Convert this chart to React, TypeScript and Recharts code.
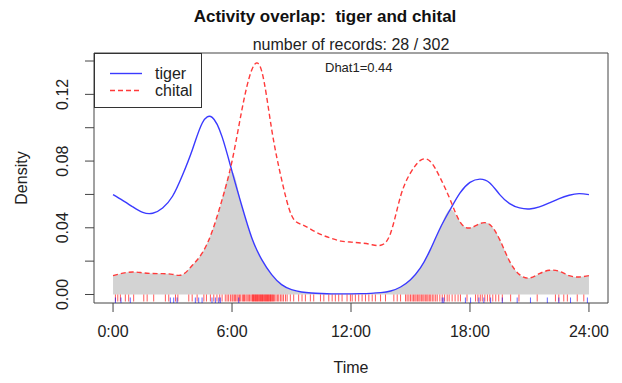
import { ComposedChart, Area, Line, Scatter, XAxis, YAxis, ReferenceArea } from "recharts"

// density curves sampled every half hour
const hours = [
  0, 0.5, 1, 1.5, 2, 2.5, 3, 3.5, 4, 4.5, 5, 5.5, 6, 6.5, 7, 7.5, 8, 8.5, 9, 9.5, 10, 10.5, 11, 11.5,
  12, 12.5, 13, 13.5, 14, 14.5, 15, 15.5, 16, 16.5, 17, 17.5, 18, 18.5, 19, 19.5, 20, 20.5, 21, 21.5,
  22, 22.5, 23, 23.5, 24,
]

const tiger = [
  0.0599, 0.0563, 0.0525, 0.0492, 0.0487, 0.0519, 0.0589, 0.0715, 0.0868, 0.1028, 0.1062, 0.0945,
  0.0738, 0.0529, 0.0339, 0.0209, 0.0119, 0.0059, 0.0029, 0.0015, 0.0009, 0.0006, 0.0004, 0.0004,
  0.0004, 0.0005, 0.0007, 0.0011, 0.0021, 0.0045, 0.0089, 0.0159, 0.0269, 0.0399, 0.0509, 0.0609,
  0.0672, 0.0692, 0.0669, 0.0599, 0.0545, 0.0519, 0.0513, 0.0525, 0.0549, 0.0575, 0.0595, 0.0605,
  0.0599,
]

const chital = [
  0.0113, 0.0128, 0.0135, 0.013, 0.0126, 0.0125, 0.0121, 0.0119, 0.0175, 0.0249, 0.0379, 0.0569,
  0.0799, 0.1108, 0.1348, 0.1338, 0.099, 0.069, 0.0475, 0.042, 0.0389, 0.0359, 0.0337, 0.032,
  0.0314, 0.0309, 0.03, 0.0295, 0.0369, 0.0589, 0.0729, 0.0804, 0.0798, 0.0699, 0.0569, 0.0435,
  0.0399, 0.0425, 0.0419, 0.0329, 0.0199, 0.0119, 0.0099, 0.0125, 0.0145, 0.0139, 0.0113, 0.0105,
  0.0113,
]

// individual record times (hours) for the rugs
const tigerRecords = [
  0.4, 0.87, 2.89, 3.06, 3.23, 4.15, 4.32, 4.49, 4.99, 5.16, 5.33, 5.41, 6.34, 16.6,
  16.68, 17.77, 18.03, 18.45, 18.7, 19.04, 19.63, 20.38, 21.05, 21.9, 22.48, 23.07, 23.92, 0.12,
]

const chitalRecords = [
  0.12, 0.24, 0.37, 0.62, 0.79, 1.04, 1.55, 1.72, 2.05, 2.64, 2.81, 3.15, 3.27, 3.82, 3.99,
  4.24, 4.58, 4.71, 4.91, 5.08, 5.24, 5.38, 5.5, 5.66, 5.75, 5.83, 5.92,
  6.0, 6.05, 6.12, 6.18, 6.25, 6.31, 6.38, 6.44, 6.52, 6.58, 6.63, 6.7, 6.76, 6.82, 6.88, 6.95,
  7.01, 7.04, 7.08, 7.11, 7.15, 7.18, 7.22, 7.25, 7.29, 7.32, 7.36, 7.4, 7.43, 7.47, 7.5, 7.54,
  7.57, 7.61, 7.65, 7.68, 7.72, 7.75, 7.79, 7.83, 7.86, 7.9, 7.94, 7.97, 8.01, 8.05, 8.09,
  8.15, 8.22, 8.3, 8.36, 8.45, 8.52, 8.6, 8.7, 8.78, 8.94,
  9.11, 9.36, 9.53, 9.7, 9.95, 10.12, 10.46, 10.63, 10.88, 11.05, 11.21, 11.38, 11.55, 11.8, 11.97,
  12.06, 12.22, 12.39, 12.56, 12.73, 12.9, 13.07, 13.23, 13.49, 13.74, 14.16, 14.33, 14.5, 14.75,
  14.83, 14.92, 15.0, 15.08, 15.15, 15.22, 15.28, 15.35, 15.42, 15.48, 15.55, 15.62, 15.68, 15.75,
  15.82, 15.88, 15.95, 16.02, 16.1, 16.18, 16.27, 16.35, 16.48, 16.6, 16.72, 16.85, 16.95, 17.1,
  17.25, 17.4, 17.52, 17.85,
  18.28, 18.4, 18.52, 18.62, 18.75, 18.88, 19.0, 19.15, 19.3, 19.45, 19.63,
  20.05, 20.47, 21.39, 22.31, 22.48, 22.73, 22.91, 23.41, 23.74,
]

const xTicks = [0, 6, 12, 18, 24]
const xTickLabels = ["0:00", "6:00", "12:00", "18:00", "24:00"]
const yTicks = [0, 0.02, 0.04, 0.06, 0.08, 0.1, 0.12, 0.14]
const yLabelled = [0, 0.04, 0.08, 0.12]

const X_DOMAIN: [number, number] = [-0.96, 24.96]
const Y_DOMAIN: [number, number] = [-0.0051, 0.1448]

const FONT = "'Liberation Sans', Arial, sans-serif"
const BLUE = "#3a3aff"
const RED = "#ff3a3a"

const rows = hours.map((h, i) => ({
  h,
  tiger: tiger[i],
  chital: chital[i],
  overlap: Math.min(tiger[i], chital[i]),
}))

const tigerRug = tigerRecords.map((h) => ({ h, base: 0 }))
const chitalRug = chitalRecords.map((h) => ({ h, base: 0 }))

function YTick(props: any) {
  const { x, y, payload } = props
  const v = payload.value
  if (!yLabelled.some((l) => Math.abs(l - v) < 1e-9)) return <g />
  return (
    <text
      x={x}
      y={y}
      transform={`rotate(-90, ${x}, ${y})`}
      textAnchor="middle"
      dominantBaseline="central"
      fontSize={16}
      fontFamily={FONT}
      fill="#222"
    >
      {v.toFixed(2)}
    </text>
  )
}

const redTick = (props: any) => (
  <line x1={props.cx} x2={props.cx} y1={props.cy} y2={props.cy + 7} stroke="rgba(255,0,0,0.65)" strokeWidth={1} />
)
const blueTick = (props: any) => (
  <line x1={props.cx} x2={props.cx} y1={props.cy + 3} y2={props.cy + 9} stroke="rgba(0,0,255,0.6)" strokeWidth={1} />
)

export default function App() {
  return (
    <div style={{ position: "absolute", left: 0, top: 0, width: 622, height: 383, background: "#fff", fontFamily: FONT, color: "#111" }}>
      <div style={{ position: "absolute", left: 0, width: 650, top: 7, lineHeight: "20px", textAlign: "center", fontSize: 17, fontWeight: "bold" }}>
        Activity overlap:&nbsp; tiger and chital
      </div>
      <div style={{ position: "absolute", left: 0, width: 702, top: 35, lineHeight: "20px", textAlign: "center", fontSize: 16, color: "#222" }}>
        number of records: 28 / 302
      </div>

      <ComposedChart width={622} height={383} data={rows} margin={{ top: 53, right: 14, bottom: 50, left: 0 }}>
        <XAxis
          dataKey="h"
          type="number"
          domain={X_DOMAIN}
          allowDataOverflow
          ticks={xTicks}
          tickFormatter={(v: number) => xTickLabels[xTicks.indexOf(v)]}
          axisLine={false}
          tickSize={9}
          tickMargin={14}
          tickLine={{ stroke: "#444" }}
          tick={{ fontSize: 16, fontFamily: FONT, fill: "#222" }}
          height={30}
        />
        <YAxis
          type="number"
          domain={Y_DOMAIN}
          allowDataOverflow
          ticks={yTicks}
          axisLine={false}
          tickSize={9}
          tickMargin={22}
          tickLine={{ stroke: "#444" }}
          tick={YTick}
          width={94}
        />
        <Area
          dataKey="overlap"
          type="natural"
          fill="#d3d3d3"
          fillOpacity={1}
          stroke="none"
          baseValue={0}
          isAnimationActive={false}
        />
        <Line dataKey="tiger" type="natural" stroke={BLUE} strokeWidth={1.4} dot={false} isAnimationActive={false} />
        <Line
          dataKey="chital"
          type="natural"
          stroke={RED}
          strokeWidth={1.4}
          strokeDasharray="5 3"
          dot={false}
          isAnimationActive={false}
        />
        <Scatter data={chitalRug} dataKey="base" shape={redTick} isAnimationActive={false} />
        <Scatter data={tigerRug} dataKey="base" shape={blueTick} isAnimationActive={false} />
        <ReferenceArea
          x1={X_DOMAIN[0]}
          x2={X_DOMAIN[1]}
          y1={Y_DOMAIN[0]}
          y2={Y_DOMAIN[1]}
          fill="none"
          stroke="#444"
          strokeWidth={1}
          ifOverflow="visible"
        />
      </ComposedChart>

      {/* legend box in the top-left corner of the plot */}
      <div style={{ position: "absolute", left: 94, top: 53, width: 108, height: 55, boxSizing: "border-box", border: "1px solid #333", background: "#fff" }}>
        <svg width={106} height={53} style={{ position: "absolute", left: 0, top: 0 }}>
          <line x1={15} x2={47} y1={19.5} y2={19.5} stroke={BLUE} strokeWidth={1.4} />
          <line x1={15} x2={47} y1={36.5} y2={36.5} stroke={RED} strokeWidth={1.4} strokeDasharray="5 3" />
          <text x={60} y={19.5} dominantBaseline="central" fontSize={16} fontFamily={FONT} fill="#222">tiger</text>
          <text x={60} y={36.5} dominantBaseline="central" fontSize={16} fontFamily={FONT} fill="#222">chital</text>
        </svg>
      </div>

      <div style={{ position: "absolute", left: 325, top: 60, lineHeight: "16px", fontSize: 13, color: "#222" }}>Dhat1=0.44</div>
      <div
        style={{ position: "absolute", left: 22 - 50, top: 178 - 10, width: 100, lineHeight: "20px", textAlign: "center", fontSize: 16, transform: "rotate(-90deg)", color: "#222" }}
      >
        Density
      </div>
      <div style={{ position: "absolute", left: 301, width: 100, top: 358, lineHeight: "20px", textAlign: "center", fontSize: 16, color: "#222" }}>
        Time
      </div>
    </div>
  )
}
